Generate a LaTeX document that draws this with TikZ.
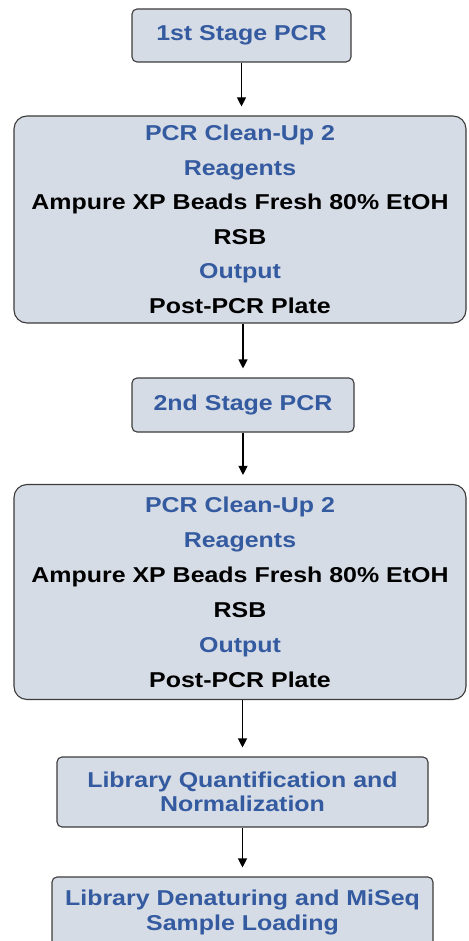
\documentclass[tikz,border=0pt]{standalone}
\usepackage{fontspec}
\setmainfont{Liberation Sans}[FakeStretch=1.16]
\usetikzlibrary{arrows.meta}
\definecolor{stepblue}{RGB}{52,90,160}
\definecolor{stepfill}{RGB}{214,220,230}
\definecolor{stepline}{RGB}{60,60,60}

\begin{document}
\begin{tikzpicture}[x=1pt,y=-1pt,
  stage/.style={draw=stepline, line width=1.1pt, fill=stepfill, rounded corners=5pt,
    align=center, inner sep=0pt, text=stepblue, font=\bfseries\fontsize{21.5}{24}\selectfont},
  cleanup/.style={stage, rounded corners=13pt, text=black},
  flow/.style={-{Triangle[width=9pt,length=9pt]}, line width=1.1pt, shorten >=9pt}]

\useasboundingbox (0,0) rectangle (468,941);
\clip (0,0) rectangle (468,941);

% First PCR and its clean-up
\node[stage, minimum width=219pt, minimum height=53pt] (pcr1) at (241.5,35.5) {1st Stage PCR};
\node[cleanup, minimum width=452pt, minimum height=207pt] (clean1) at (240,219.5) {%
  \textcolor{stepblue}{PCR Clean-Up 2}\\[10.5pt]
  \textcolor{stepblue}{Reagents}\\[10.5pt]
  Ampure XP Beads Fresh 80\% EtOH\\[10.5pt]
  RSB\\[10.5pt]
  \textcolor{stepblue}{Output}\\[10.5pt]
  Post-PCR Plate};

% Second PCR and its clean-up
\node[stage, minimum width=222pt, minimum height=54pt] (pcr2) at (243,405) {2nd Stage PCR};
\node[cleanup, minimum width=452pt, minimum height=215pt] (clean2) at (240,592) {%
  \textcolor{stepblue}{PCR Clean-Up 2}\\[11pt]
  \textcolor{stepblue}{Reagents}\\[11pt]
  Ampure XP Beads Fresh 80\% EtOH\\[11pt]
  RSB\\[11pt]
  \textcolor{stepblue}{Output}\\[11pt]
  Post-PCR Plate};

% Library steps
\node[stage, minimum width=371pt, minimum height=70pt] (quant) at (242.5,792) {Library Quantification and\\Normalization};
\node[stage, minimum width=381pt, minimum height=70pt] (load) at (242.5,912) {Library Denaturing and MiSeq\\[1pt]Sample Loading};

% Arrows
\draw[flow] (pcr1.south) -- (pcr1.south |- clean1.north);
\draw[flow] (clean1.south -| pcr2) -- (pcr2.north);
\draw[flow] (pcr2.south) -- (pcr2.south |- clean2.north);
\draw[flow] (clean2.south -| quant) -- (quant.north);
\draw[flow] (quant.south) -- (load.north);

\end{tikzpicture}
\end{document}
